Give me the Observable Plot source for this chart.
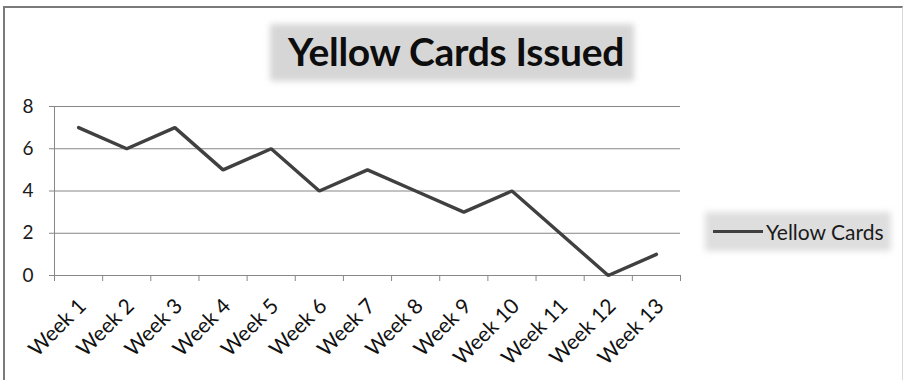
<!DOCTYPE html>
<html>
<head>
<meta charset="utf-8">
<script src="https://cdn.jsdelivr.net/npm/d3@7"></script>
<script src="https://cdn.jsdelivr.net/npm/@observablehq/plot@0.6"></script>
<style>
  html, body { margin: 0; padding: 0; background: #fff; }
  #chart { position: relative; width: 904px; height: 380px; overflow: hidden; font-family: Lato, "Open Sans", sans-serif; }
  #frame { position: absolute; left: 3px; top: 6px; width: 900px; height: 400px; border-left: 2px solid #7a7a7a; border-top: 2px solid #7a7a7a; border-right: 1px solid #d8d8d8; box-sizing: border-box; }
  #chart svg { position: absolute; left: 0; top: 0; }
  .glow { position: absolute; background: #d6d6d6; filter: blur(3px); }
  #title-bg { left: 270px; top: 24px; width: 364px; height: 57px; }
  #title { position: absolute; left: 270px; top: 23px; width: 372px; height: 57px; line-height: 57px; text-align: center; font-weight: bold; font-size: 39px; color: #0d0d0d; letter-spacing: -0.3px; }
  #legend-bg { left: 705px; top: 212px; width: 186px; height: 39px; background: #dedede; }
  #legend { position: absolute; left: 713px; top: 212px; height: 39px; display: flex; align-items: center; font-size: 21px; color: #1a1a1a; }
  #legend .swatch { width: 50px; height: 3px; background: #404040; margin-right: 3px; }
</style>
</head>
<body>
<div id="chart">
  <div id="frame"></div>
  <div class="glow" id="title-bg"></div>
  <div id="title">Yellow Cards Issued</div>
  <div class="glow" id="legend-bg"></div>
  <div id="legend"><div class="swatch"></div><span id="legend-label"></span></div>
</div>
<script>
// Weekly yellow card counts
const weeks = ["Week 1", "Week 2", "Week 3", "Week 4", "Week 5", "Week 6", "Week 7",
               "Week 8", "Week 9", "Week 10", "Week 11", "Week 12", "Week 13"];
const yellowCards = [7, 6, 7, 5, 6, 4, 5, 4, 3, 4, 2, 0, 1];
const yTicks = [0, 2, 4, 6, 8];
const seriesName = "Yellow Cards";

document.getElementById("legend-label").textContent = seriesName;

// each week sits in the middle of its category slot; ticks mark slot edges
const rows = weeks.map((w, i) => ({week: w, slot: i + 0.5, value: yellowCards[i]}));
const slotEdges = d3.range(weeks.length + 1);
const slotCenters = rows.map(d => d.slot);

const gridColor = "#878787";

const plot = Plot.plot({
  width: 904,
  height: 380,
  marginLeft: 54,
  marginRight: 224,
  marginTop: 106,
  marginBottom: 105,
  style: {background: "transparent", fontFamily: "Lato, 'Open Sans', sans-serif"},
  x: {domain: [0, weeks.length]},
  y: {domain: [0, 8]},
  marks: [
    Plot.gridY(yTicks.filter(t => t > 0), {stroke: gridColor, strokeOpacity: 1}),
    Plot.ruleY([0], {stroke: gridColor}),
    Plot.ruleX([0], {stroke: gridColor}),
    Plot.axisY({ticks: yTicks, tickSize: 5, tickPadding: 16, fontSize: 19, stroke: gridColor, fill: "#1a1a1a", label: null}),
    Plot.axisX({ticks: slotEdges, tickSize: 6, tickFormat: () => "", stroke: gridColor, label: null}),
    Plot.axisX({ticks: slotCenters, tickSize: 0, tickPadding: 27, tickRotate: -45, fontSize: 21,
                fill: "#111", tickFormat: s => weeks[Math.floor(s)], label: null, dx: 4}),
    Plot.line(rows, {x: "slot", y: "value", stroke: "#404040", strokeWidth: 3.4, strokeLinejoin: "miter"})
  ]
});
document.getElementById("chart").appendChild(plot);
</script>
</body>
</html>
